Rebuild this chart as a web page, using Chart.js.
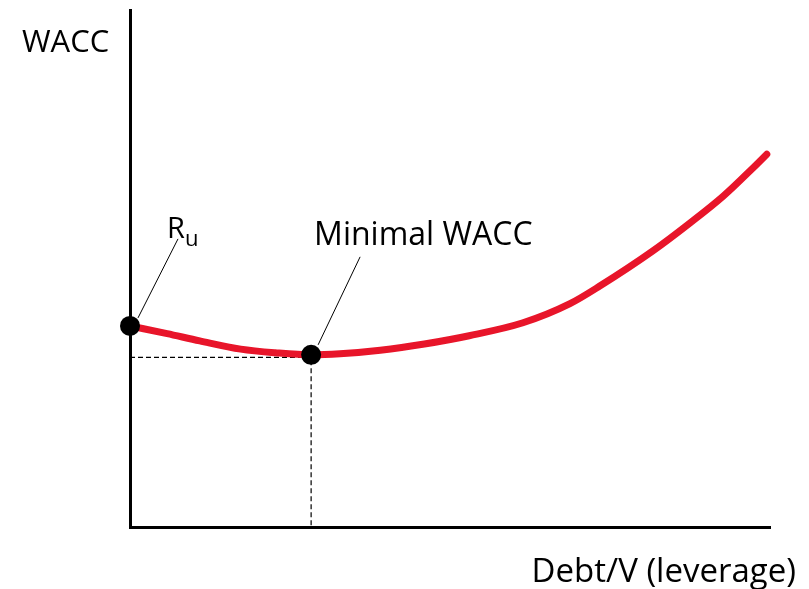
<!DOCTYPE html>
<html><head><meta charset="utf-8">
<script src="https://cdn.jsdelivr.net/npm/chart.js@4"></script>
<style>html,body{margin:0;padding:0;background:#fff}#wrap{width:809px;height:589px}</style>
</head><body><div id="wrap"><canvas id="c" width="809" height="589"></canvas></div>
<script>
// Debt/V (leverage, %) and WACC values
const leverage = [0, 5.8, 10.9, 17.3, 22.7, 28.3, 32.8, 39.1, 46, 53.0, 61.4, 68.75, 73.4, 81.7, 87.5, 92.7, 97.3, 99.5];
const wacc     = [3.89, 3.74, 3.60, 3.44, 3.37, 3.33, 3.35, 3.42, 3.54, 3.70, 3.95, 4.32, 4.66, 5.34, 5.88, 6.40, 6.94, 7.21];
const keyLabels = ['Ru', 'Minimal WACC'];
const keyX = [0, 28.3];
const keyY = [3.89, 3.33];
const axisTitles = ['WACC', 'Debt/V (leverage)'];

const curve = leverage.map((x, i) => ({x, y: wacc[i]}));
const keyPts = keyX.map((x, i) => ({x, y: keyY[i]}));
const drop = [{x: 0, y: keyY[1] - 0.05}, {x: keyX[1], y: keyY[1] - 0.05}, {x: keyX[1], y: 0}];

const FONT = '"Open Sans", sans-serif';
const labelPlugin = {
  id: 'labels',
  afterDatasetsDraw(chart) {
    const {ctx, chartArea, scales} = chart;
    const x = scales.x, y = scales.y;
    ctx.save();
    ctx.fillStyle = '#000';
    ctx.strokeStyle = '#000';
    ctx.lineWidth = 1;
    const p0 = {x: x.getPixelForValue(keyX[0]), y: y.getPixelForValue(keyY[0])};
    const p1 = {x: x.getPixelForValue(keyX[1]), y: y.getPixelForValue(keyY[1])};
    ctx.beginPath();
    ctx.moveTo(p0.x + 48, p0.y - 87); ctx.lineTo(p0.x + 8, p0.y - 8);
    ctx.moveTo(p1.x + 49, p1.y - 98); ctx.lineTo(p1.x + 7, p1.y - 10);
    ctx.stroke();
    ctx.textBaseline = 'alphabetic';
    ctx.textAlign = 'left';
    ctx.font = '29px ' + FONT;
    ctx.fillText('R', p0.x + 37, p0.y - 88);
    const rw = ctx.measureText('R').width;
    ctx.font = '22px ' + FONT;
    ctx.fillText('u', p0.x + 37 + rw, p0.y - 80);
    ctx.font = '32px ' + FONT;
    ctx.fillText(keyLabels[1], p1.x + 3, p1.y - 110);
    ctx.font = '31px ' + FONT;
    ctx.fillText(axisTitles[0], chartArea.left - 108, chartArea.top + 42);
    ctx.textAlign = 'right';
    ctx.font = '33px ' + FONT;
    ctx.fillText(axisTitles[1], chartArea.right + 26, chartArea.bottom + 55);
    ctx.restore();
  }
};

new Chart(document.getElementById('c'), {
  type: 'line',
  data: {
    datasets: [
      {data: keyPts, showLine: false, pointRadius: 10, pointBackgroundColor: '#000', pointBorderColor: '#000', pointBorderWidth: 0, order: 0},
      {data: curve, borderColor: '#E8152A', borderWidth: 7, pointRadius: 0, tension: 0.4, cubicInterpolationMode: 'monotone', borderCapStyle: 'round', borderJoinStyle: 'round', fill: false, order: 1},
      {data: drop, borderColor: '#000', borderWidth: 1.2, borderDash: [5, 3], pointRadius: 0, tension: 0, fill: false, order: 2}
    ]
  },
  options: {
    responsive: false,
    animation: false,
    devicePixelRatio: 1,
    layout: {padding: {left: 130, right: 39, top: 8, bottom: 62}},
    plugins: {legend: {display: false}, tooltip: {enabled: false}},
    scales: {
      x: {type: 'linear', min: 0, max: 100, display: true,
          grid: {display: false, drawTicks: false}, ticks: {display: false},
          border: {display: true, color: '#000', width: 3}},
      y: {type: 'linear', min: 0, max: 10, display: true,
          grid: {display: false, drawTicks: false}, ticks: {display: false},
          border: {display: true, color: '#000', width: 3}}
    },
    clip: false
  },
  plugins: [labelPlugin]
});
</script></body></html>
